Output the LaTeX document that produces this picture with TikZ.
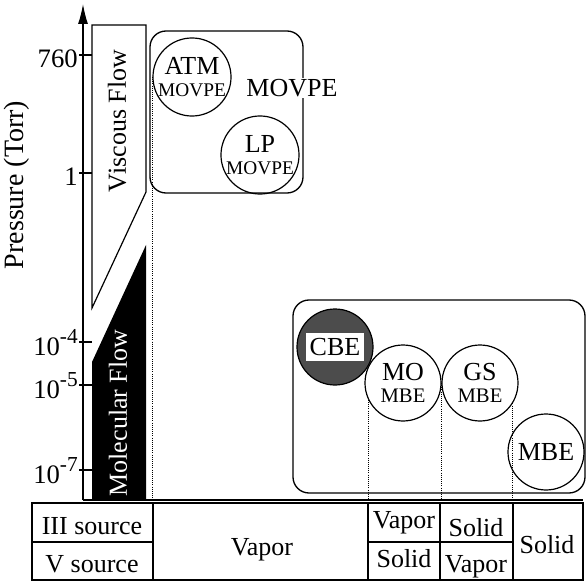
\documentclass[tikz,border=0pt]{standalone}
\usepackage{fontspec}
\setmainfont{Liberation Serif}
\usetikzlibrary{arrows.meta,positioning,calc}
\newcommand{\fbig}{\fontsize{19.5}{16.5}\selectfont}
\newcommand{\fsmall}{\fontsize{14.5}{16.5}\selectfont}
\newcommand{\fmid}{\fontsize{15.5}{16.5}\selectfont}
\newcommand{\pexp}[1]{10\raisebox{0.42em}{\fontsize{16}{16}\selectfont -#1}}

\begin{document}
\begin{tikzpicture}[x=0.75pt,y=-0.75pt,
 proc/.style={draw,line width=0.9pt,circle,minimum size=57pt,inner sep=0pt,align=center,font=\fbig},
 region/.style={draw,line width=1pt,rounded corners=12pt},
 cell/.style={font=\fontsize{19.5}{20}\selectfont,inner sep=0pt,anchor=base},
 axlab/.style={font=\fontsize{20}{20}\selectfont,inner sep=0pt,anchor=base east},
 flowlab/.style={font=\fontsize{19.5}{20}\selectfont,rotate=90,inner sep=0pt},
 guide/.style={densely dotted,line width=0.6pt},
 axtick/.style={line width=0.8pt},
 >={Latex[length=15pt,width=7.5pt]}]
\useasboundingbox (0,0) rectangle (586,581);
% pressure axis
\coordinate (origin) at (83,500);
\coordinate (ytop) at (83,4);
\coordinate (xend) at (583,500);
\draw[line width=1pt,->] (origin) -- (ytop);
\draw[line width=1pt] (origin) -- (xend);
\foreach \y/\lab [count=\i] in {55/760,173/1,342/\pexp{4},385/\pexp{5},470/\pexp{7}} {
 \draw[axtick] (79,\y) -- (92,\y);
 \node[axlab] (tk\i) at (78,\y+13) {\lab};
}
\node[font=\fontsize{21}{21}\selectfont,rotate=90] (ylab) at (17,185) {Pressure (Torr)};
% flow regimes
\draw[line width=0.9pt,fill=white] (92,25) -- (146,25) -- (146,192) -- (92,308) -- cycle;
\node[flowlab] (visc) at (117,121) {Viscous Flow};
\fill (92,362) -- (146,245) -- (146,500) -- (92,500) -- cycle;
\node[flowlab,text=white] (molec) at (118,413) {Molecular Flow};
% MOVPE group
\draw[region] (150,31) rectangle (303,193);
\node[proc] (atm) at (192,77) {ATM\\{\fsmall MOVPE}};
\node[proc] (lp) at (260,155) {LP\\{\fsmall MOVPE}};
\node[font=\fbig,fill=white,inner sep=1pt] (movpe) at (292,88) {MOVPE};
% MBE group
\draw[region] (293,300) rectangle (585,493);
\node[proc,fill=black!70] (cbe) at (335,347) {};
\node[font=\fbig,fill=white,inner xsep=2.5pt,inner ysep=4pt] (cbetxt) at (cbe) {CBE};
\node[proc] (mo) at (403,383) {MO\\{\fmid MBE}};
\node[proc] (gs) at (480,383) {GS\\{\fmid MBE}};
\node[proc] (mbe) at (546,452) {MBE};
% guides down to the source table
\draw[guide] (atm.west) -- (atm.west |- origin);
\draw[guide] (mo.206) -- (mo.206 |- origin);
\draw[guide] (mo.east) -- (mo.east |- origin);
\draw[guide] (gs.-32) -- (gs.-32 |- origin);
% source table
\draw[line width=1pt] (32,503) rectangle (583,580);
\foreach \x in {153,368,440,513}
 \draw[line width=1pt] (\x,503) -- (\x,580);
\draw[line width=1pt] (32,542) -- (153,542);
\draw[line width=1pt] (368,542) -- (513,542);
\node[cell] (src3) at (92,534) {III source};
\node[cell] (src5) at (92,572) {V source};
\node[cell] (vap) at (262,555) {Vapor};
\node[cell] (mo3) at (404,528) {Vapor};
\node[cell] (mo5) at (404,567) {Solid};
\node[cell] (gs3) at (476,536) {Solid};
\node[cell] (gs5) at (476,572) {Vapor};
\node[cell] (mbe35) at (547,553) {Solid};
\end{tikzpicture}
\end{document}
